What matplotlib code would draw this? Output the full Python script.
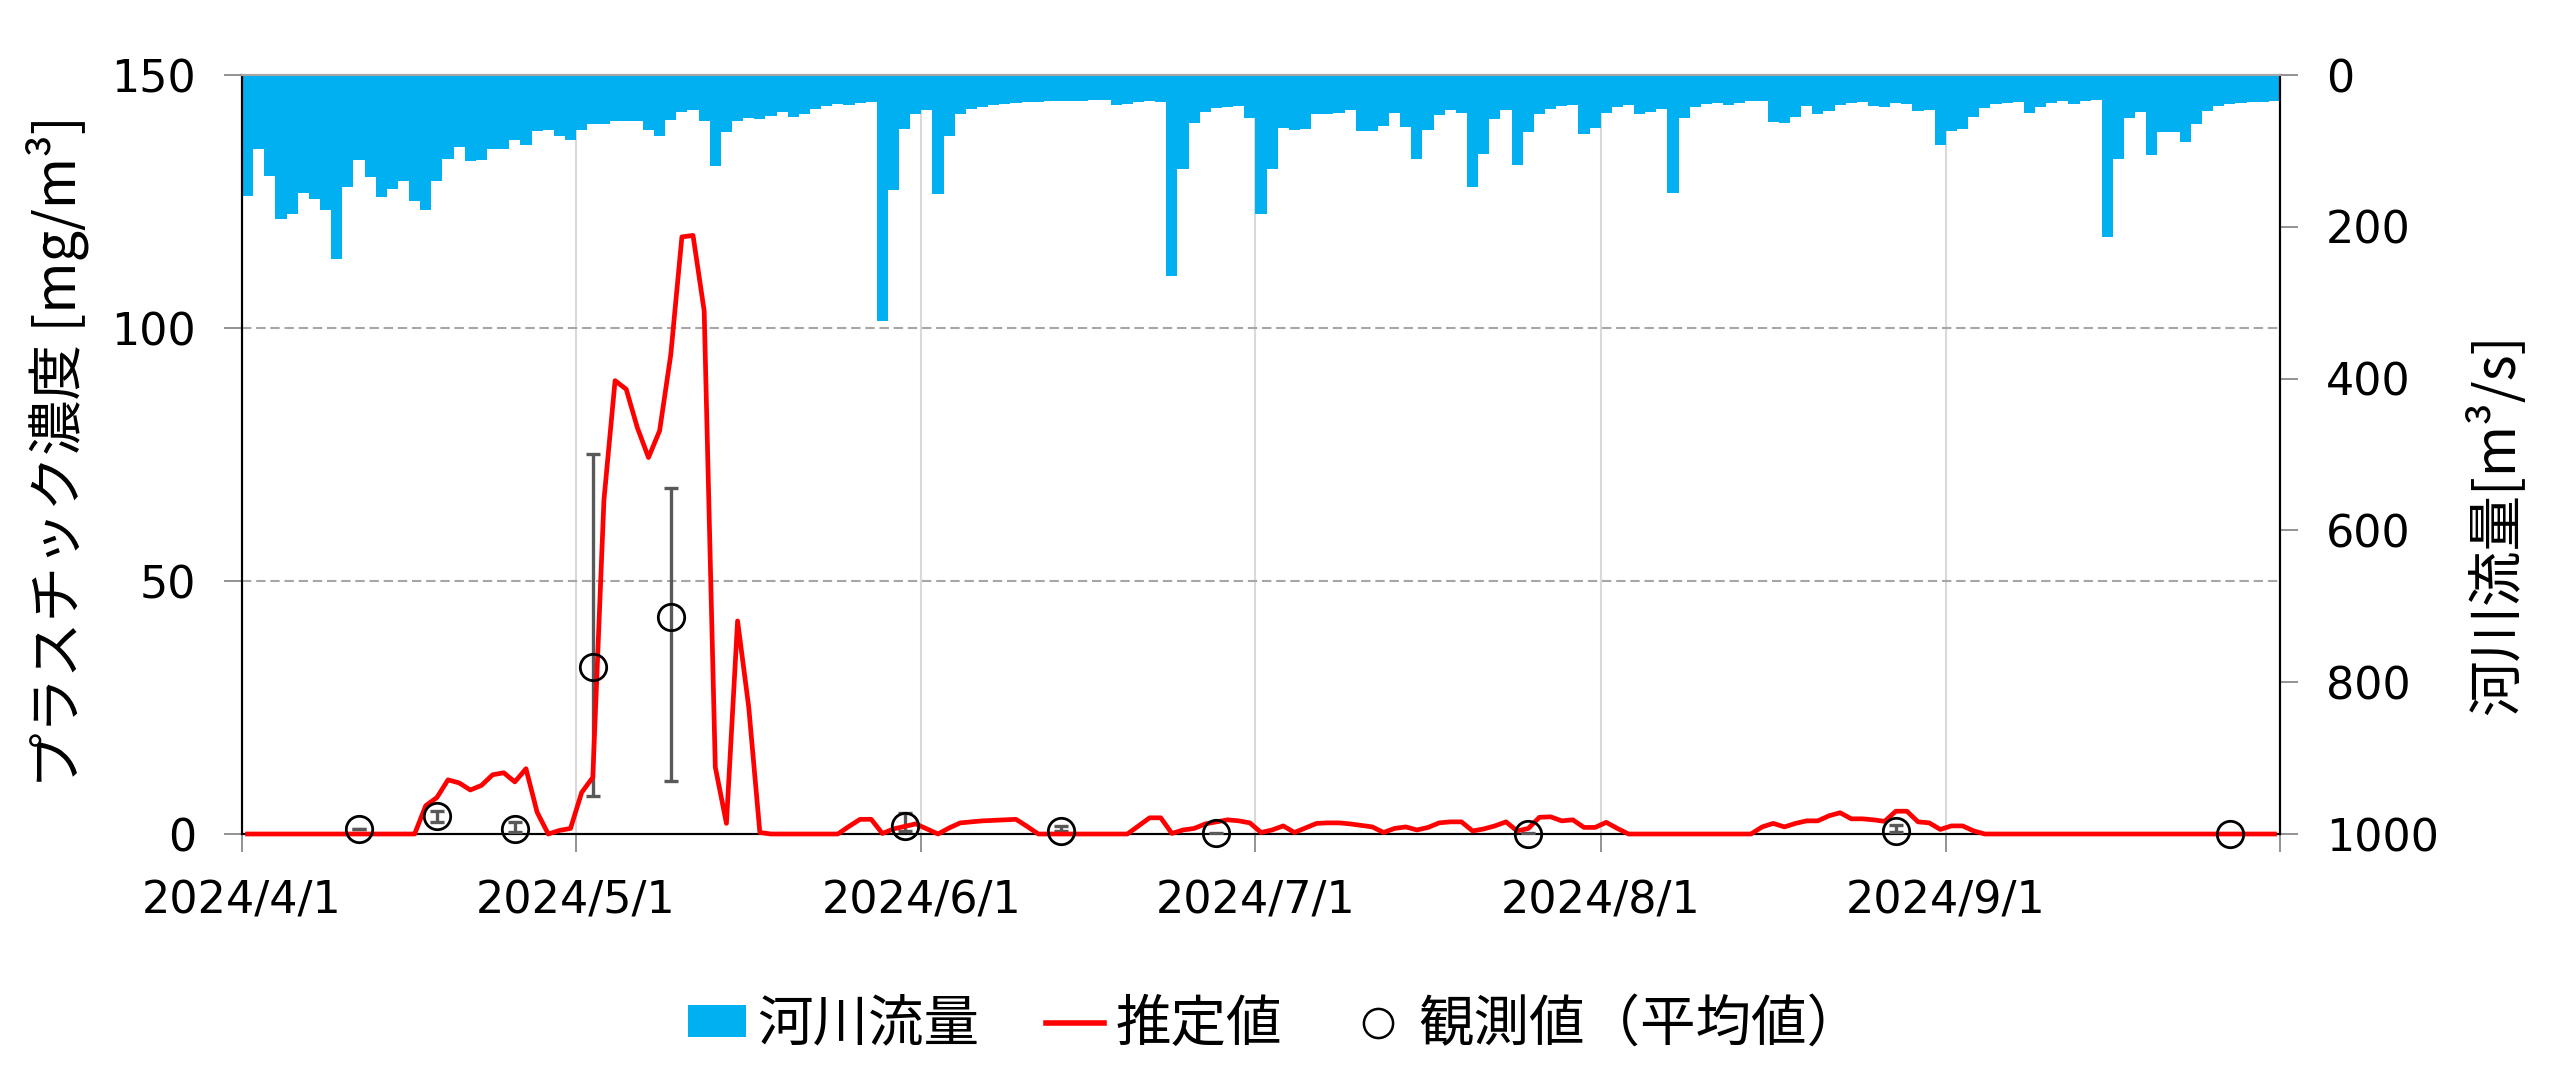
import numpy as np
import matplotlib
matplotlib.use("Agg")
import matplotlib.pyplot as plt
from matplotlib.patches import Patch
from matplotlib.lines import Line2D

# daily river flow [m3/s], 2024/4/1 - 2024/9/30
flow = [
    160, 98, 133, 190, 183, 155, 164, 178, 242, 147, 112, 135, 161, 150, 140,
    166, 178, 140, 111, 95, 113, 112, 97, 97, 86, 92, 74, 72, 80, 86,
    73, 65, 64, 60, 60, 61, 73, 81, 59, 49, 46.5, 60, 119.5, 75, 61, 56.7,
    57.6, 54, 48.8, 55.8, 51, 44.3, 40.4, 38.6, 39.5, 37.3, 36, 324, 151.5, 71, 51.8,
    46.5, 156.8, 80.8, 51, 44.8, 42, 39.5, 38.2, 36.4, 36, 36, 34.7, 34.2, 34.2,
    34.2, 33.4, 33.4, 39, 38.2, 35.3, 34.2, 36, 265, 124, 63.7, 48.8, 43, 42, 41.3, 56.7,
    183, 124, 70, 72.5, 71.6, 51, 51.8, 50, 46.5, 74.2, 74.2, 67.6, 50, 68.5, 110.7,
    73, 52.7, 46.5, 50, 147.6, 103.7, 58.4, 46.5, 118, 75.5, 51.8, 44.8, 41.3, 39.5, 77.3, 70,
    49.6, 42, 39.5, 51, 48.3, 44.8, 155, 56.7, 42, 38.2, 37, 39, 36.4, 34.7, 33.8,
    61.9, 62.8, 55.8, 40.4, 51.8, 47.9, 39.1, 36.9, 35.1, 41.3, 42.2, 37.3, 37.7, 47.4, 45.7, 91.8,
    73.8, 71.1, 54.9, 43, 38.6, 36.9, 36, 50, 42.2, 36.4, 34.7, 38.2, 34.7, 32.9, 213.9,
    110.7, 56.7, 48.8, 105.4, 75.5, 74.7, 88.7, 64.6, 47.9, 41.3, 38.2, 37.3, 36, 36, 34.7,
]

# estimated plastic concentration [mg/m3], same days
conc = [
    0, 0, 0, 0, 0, 0, 0, 0, 0, 0, 0, 0, 0, 0, 0, 0, 5.6, 7.2, 10.7, 10.1,
    8.7, 9.6, 11.7, 12.1, 10.3, 12.9, 4.3, 0, 0.7, 1.1,
    8.2, 11.2, 66, 89.6, 87.9, 80.3, 74.4, 79.7, 94.7, 118, 118.3, 103.4, 13.2, 2.1, 42.1,
    25.1, 0.3, 0, 0, 0, 0, 0, 0, 0, 1.5, 2.9, 2.9, 0.1, 1.0, 1.5, 2.0,
    1.0, 0, 1.2, 2.2, 2.4, 2.6, 2.7, 2.8, 2.9, 1.5, 0, 0, 0, 0, 0,
    0, 0, 0, 0, 1.6, 3.2, 3.2, 0.1, 0.8, 1.1, 2.0, 2.4, 2.8, 2.6, 2.2,
    0.3, 0.8, 1.6, 0.3, 1.2, 2.1, 2.2, 2.2, 2.0, 1.7, 1.4, 0.3, 1.1, 1.4, 0.8,
    1.3, 2.2, 2.4, 2.4, 0.6, 1.0, 1.6, 2.4, 0.6, 1.1, 3.3, 3.4, 2.6, 2.8, 1.3, 1.3,
    2.3, 1.1, 0, 0, 0, 0, 0, 0, 0, 0, 0, 0, 0, 0, 1.4, 2.1, 1.4,
    2.1, 2.6, 2.6, 3.6, 4.2, 3.0, 3.0, 2.8, 2.5, 4.5, 4.5, 2.4, 2.2, 0.9,
    1.6, 1.6, 0.6, 0, 0, 0, 0, 0, 0, 0, 0, 0, 0, 0, 0, 0, 0,
    0, 0, 0, 0, 0, 0, 0, 0, 0, 0, 0, 0, 0,
]

# observations (mean with min/max range)
obs_dates = ["2024-04-11", "2024-04-18", "2024-04-25", "2024-05-02", "2024-05-09",
             "2024-05-30", "2024-06-13", "2024-06-27", "2024-07-25", "2024-08-27",
             "2024-09-26"]
obs_mean = [0.9, 3.5, 0.9, 33.0, 42.9, 1.6, 0.5, 0.1, 0.0, 0.5, 0.0]
obs_upper = [0.9, 4.5, 2.4, 75.1, 68.3, 4.1, 1.6, 0.2, 0.1, 1.7, 0.0]
obs_lower = [0.9, 2.4, 0.45, 7.5, 10.5, 0.5, 0.5, 0.0, 0.0, 0.45, 0.0]

month_ticks = ["2024-04-01", "2024-05-01", "2024-06-01", "2024-07-01",
               "2024-08-01", "2024-09-01", "2024-10-01"]

JP = ["Noto Sans CJK JP", "DejaVu Sans"]
plt.rcParams["font.family"] = ["DejaVu Sans", "Noto Sans CJK JP"]

days = np.datetime64("2024-04-01") + np.arange(len(flow)).astype("timedelta64[D]")
mid = days.astype("datetime64[h]") + np.timedelta64(12, "h")
obs_x = np.array(obs_dates, dtype="datetime64[D]").astype("datetime64[h]") + np.timedelta64(12, "h")
obs_mean = np.array(obs_mean)
yerr = [obs_mean - np.array(obs_lower), np.array(obs_upper) - obs_mean]

fig = plt.figure(figsize=(25.6, 10.79), dpi=100)
ax = fig.add_axes([242 / 2560, 1 - 834 / 1079, (2280 - 242) / 2560, (834 - 75) / 1079])

# river flow bars hanging from the top (right axis, inverted)
ax.bar(days, flow, width=1.0, align="edge", color="#00B0F0", linewidth=0)
ax.set_ylim(1000, 0)
ax.set_yticks(np.arange(0, 1001, 200))
ax.set_xlim(np.datetime64("2024-04-01"), np.datetime64("2024-10-01"))
ticks = np.array(month_ticks, dtype="datetime64[D]")
ax.set_xticks(ticks)
ax.set_xticklabels([f"{d.year}/{d.month}/{d.day}" for d in ticks.astype(object)][:-1] + [""])
ax.grid(axis="x", color="#d9d9d9", lw=1.5)
ax.set_axisbelow(True)

ax2 = ax.twinx()
ax.yaxis.tick_right()
ax2.yaxis.tick_left()

ax2.set_ylim(0, 150)
ax2.set_yticks([0, 50, 100, 150])
for v in [50, 100]:
    ax2.axhline(v, color="#a6a6a6", lw=1.5, ls=(0, (4.5, 2.3)), zorder=1)

ax2.errorbar(obs_x, obs_mean, yerr=yerr, fmt="none", ecolor="#595959",
             elinewidth=2.4, capsize=5, capthick=2.4, zorder=3)
ax2.plot(mid, conc, color="#FF0000", lw=3.4, zorder=5, clip_on=False)
ax2.plot(obs_x, obs_mean, "o", mfc="none", mec="black", ms=19, mew=2,
         zorder=6, clip_on=False)

for a in (ax, ax2):
    for s in a.spines.values():
        s.set_color("black")
        s.set_linewidth(1.5)
    a.spines["top"].set_color("#a6a6a6")
    a.tick_params(direction="out", length=13, width=1.2, color="#808080",
                  labelsize=32, pad=20)
ax.tick_params(axis="x", pad=20)

fig.text(57 / 2560, 1 - 452 / 1079, "プラスチック濃度 [mg/m³]", rotation=90,
         ha="center", va="center", fontsize=40, family=JP)
fig.text(2497 / 2560, 1 - 524 / 1079, "河川流量[m³/s]", rotation=90,
         ha="center", va="center", fontsize=40, family=JP)

handles = [
    Patch(facecolor="#00B0F0", edgecolor="none"),
    Line2D([], [], color="#FF0000", lw=4),
    Line2D([], [], marker="o", ls="none", mfc="none", mec="black", ms=21, mew=1.8),
]
fig.legend(handles, ["河川流量", "推定値", "観測値（平均値）"], loc="center",
           bbox_to_anchor=(1275 / 2560, 1 - 1025 / 1079), ncol=3, frameon=False,
           prop={"family": JP, "size": 40}, handlelength=1.05, handleheight=0.5,
           handletextpad=0.2, columnspacing=1.2)

fig.savefig("out.png", dpi=100)
